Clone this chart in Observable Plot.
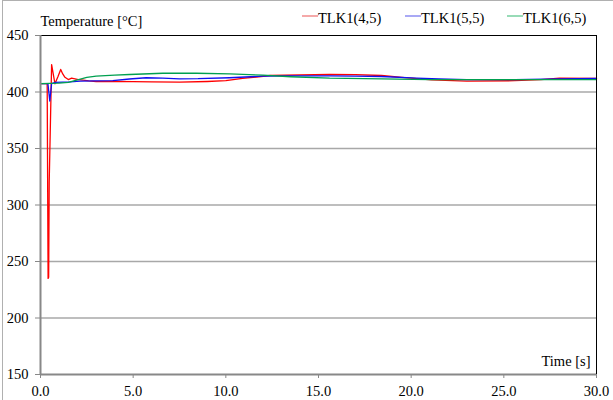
<!DOCTYPE html>
<html>
<head>
<meta charset="utf-8">
<script src="https://cdn.jsdelivr.net/npm/d3@7"></script>
<script src="https://cdn.jsdelivr.net/npm/@observablehq/plot@0.6"></script>
<style>
  html, body { margin: 0; padding: 0; background: #fff; font-family: "Liberation Serif", serif; }
  #wrap { position: relative; width: 613px; height: 400px; }
  #outer { position: absolute; left: 2px; top: 0; width: 620px; height: 410px;
           border-left: 1px solid #b0b0b0; border-top: 1px solid #b0b0b0; pointer-events: none; }
</style>
</head>
<body>
<div id="wrap"><div id="outer"></div></div>
<script>
const seriesNames = ["TLK1(4,5)", "TLK1(5,5)", "TLK1(6,5)"];
const seriesColors = ["#ff0000", "#1010f0", "#00a050"];
const legendColors = ["#f07a7a", "#7a7af0", "#60c890"];

const redT = [0, 0.36, 0.41, 0.44, 0.47, 0.6, 0.78, 0.95, 1.09, 1.2, 1.32, 1.5, 1.68, 1.86, 2.04, 2.3, 2.6, 3, 4, 5, 6, 7.5, 9, 10, 10.9, 12.4, 14, 15.6, 17, 18.4, 19.5, 21.1, 23, 25.6, 27, 28, 30];
const redV = [407.5, 407.5, 235, 236, 320, 424.3, 407.3, 414, 420, 416, 413, 411, 412.2, 411.7, 411, 410.5, 409.8, 409.3, 409.3, 409.2, 409, 408.7, 409.3, 410, 412, 414.6, 415.2, 415.5, 415.3, 414.6, 413, 410.8, 409.6, 410, 411, 412.2, 412];

const blueT = [0, 0.4, 0.5, 0.6, 0.8, 1.2, 1.6, 2.15, 3, 3.9, 4.8, 5.7, 6.6, 7.5, 8.5, 10.2, 12, 13.5, 15.6, 17, 18.4, 20.3, 21.5, 23, 25.6, 28, 30];
const blueV = [407.5, 407.5, 392, 407.5, 408.5, 408.8, 409, 409.6, 409.8, 410, 411.5, 412.6, 412.2, 411.7, 411.8, 412.6, 414, 414.3, 414.3, 414, 413.7, 412.2, 411.5, 411, 411, 411.7, 412];

const greenT = [0, 1, 1.5, 2, 2.5, 3, 4, 4.8, 6.6, 8.4, 10.2, 12, 13.5, 15.6, 18.4, 21, 25.6, 30];
const greenV = [407.5, 407.8, 408.5, 410.8, 413, 414, 415, 415.5, 416.6, 416.6, 416, 414.9, 413.5, 412.2, 411.7, 411, 411, 411];

const xTicks = [0, 5, 10, 15, 20, 25, 30];
const yTicks = [150, 200, 250, 300, 350, 400, 450];
const gridY = [200, 250, 300, 350, 400];

const toRows = (ts, vs, s) => ts.map((t, i) => ({t, v: vs[i], s}));
const rows = [
  ...toRows(redT, redV, seriesNames[0]),
  ...toRows(blueT, blueV, seriesNames[1]),
  ...toRows(greenT, greenV, seriesNames[2])
];

const font = "Liberation Serif";
const fs = 14.5;

const chart = Plot.plot({
  width: 613,
  height: 400,
  marginLeft: 40,
  marginRight: 17,
  marginTop: 35,
  marginBottom: 26,
  style: {background: "transparent", color: "black"},
  x: {domain: [0, 30]},
  y: {domain: [150, 450]},
  color: {domain: seriesNames, range: seriesColors},
  marks: [
    Plot.ruleY(gridY, {stroke: "#a8a8a8", strokeWidth: 1.5}),
    Plot.axisX({ticks: xTicks, tickFormat: d3.format(".1f"), tickSize: 4, tickPadding: 7, stroke: "#888", fill: "black", label: null, fontFamily: font, fontSize: fs}),
    Plot.axisY({ticks: yTicks, tickSize: 5, tickPadding: 7, stroke: "#888", fill: "black", label: null, fontFamily: font, fontSize: fs}),
    Plot.line(rows, {x: "t", y: "v", z: "s", stroke: "s", strokeWidth: 1.3}),
    Plot.ruleY([450], {stroke: "black", strokeWidth: 1}),
    Plot.ruleX([30], {stroke: "black", strokeWidth: 1}),
    Plot.ruleX([0], {stroke: "#888", strokeWidth: 2}),
    Plot.ruleY([150], {stroke: "#888", strokeWidth: 2}),
    Plot.text(["Time [s]"], {frameAnchor: "bottom-right", dx: -6, dy: -9, textAnchor: "end", lineAnchor: "bottom", fill: "black", fontFamily: font, fontSize: fs}),
    Plot.text(["Temperature [°C]"], {frameAnchor: "top-left", dx: 0, dy: -10, textAnchor: "start", lineAnchor: "bottom", fill: "black", fontFamily: font, fontSize: fs})
  ]
});

document.getElementById("wrap").prepend(chart);

// legend
const svg = d3.select(chart);
const legendX = [302, 405, 507];
const g = svg.append("g").attr("text-anchor", "start");
seriesNames.forEach((name, i) => {
  g.append("line").attr("x1", legendX[i]).attr("x2", legendX[i] + 16)
    .attr("y1", 16).attr("y2", 16).attr("stroke", legendColors[i]).attr("stroke-width", 1.3);
  g.append("text").attr("x", legendX[i] + 16).attr("y", 23).attr("fill", "black").text(name);
});
svg.attr("font-family", font).style("font-family", font).style("font-size", fs + "px");
svg.selectAll("text").attr("font-family", font).style("font-family", font).style("font-size", fs + "px");
</script>
</body>
</html>
